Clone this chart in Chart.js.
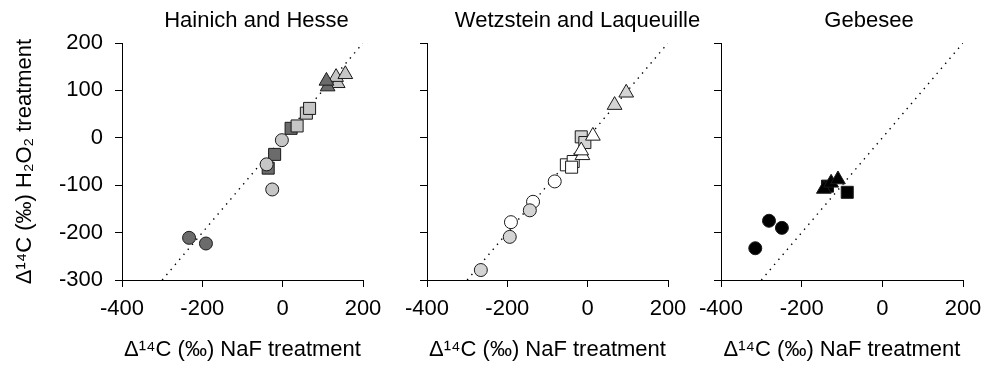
<!DOCTYPE html>
<html><head><meta charset="utf-8">
<script src="https://cdn.jsdelivr.net/npm/chart.js@4"></script>
<style>
html,body{margin:0;padding:0;background:#fff;overflow:hidden;width:985px;height:366px;position:relative}
canvas{position:absolute;top:0}
</style></head>
<body>
<canvas id="c1" width="513" height="366" style="left:0px"></canvas>
<canvas id="c2" width="395" height="366" style="left:380px"></canvas>
<canvas id="c3" width="378" height="366" style="left:680px"></canvas>
<script>
// ---- axes ----
const xTicks = [-400, -200, 0, 200];
const yTicks = [-300, -200, -100, 0, 100, 200];
const refLine = [-300, 200]; // 1:1 line from (-300,-300) to (200,200)
const panelTitles = ['Hainich and Hesse', 'Wetzstein and Laqueuille', 'Gebesee'];
const xTitle = 'Δ¹⁴C (‰) NaF treatment';
const yTitle = 'Δ¹⁴C (‰) H₂O₂ treatment';

// ---- Panel 1: Hainich and Hesse ----
const hhLightCircleX = [-2, -40, -26];
const hhLightCircleY = [-5, -56, -109];
const hhDarkCircleX = [-233, -191];
const hhDarkCircleY = [-211, -223];
const hhLightSquareX = [59, 67, 36];
const hhLightSquareY = [52, 62, 25];
const hhDarkSquareX = [21, -20, -36];
const hhDarkSquareY = [20, -35, -64];
const hhDarkTriangleX = [112, 109];
const hhDarkTriangleY = [108, 120];
const hhLightTriangleX = [137, 133, 156];
const hhLightTriangleY = [115, 128, 134];

// ---- Panel 2: Wetzstein and Laqueuille ----
const wlLightTriangleX = [96, 67];
const wlLightTriangleY = [95, 69];
const wlWhiteTriangleX = [13, -13, -16];
const wlWhiteTriangleY = [4, -37, -27];
const wlLightSquareX = [-16, -7];
const wlLightSquareY = [2, -10];
const wlWhiteSquareX = [-53, -36, -40];
const wlWhiteSquareY = [-57, -50, -62];
const wlWhiteCircleX = [-82, -136, -191];
const wlWhiteCircleY = [-92, -135, -178];
const wlLightCircleX = [-144, -194, -266];
const wlLightCircleY = [-153, -209, -279];

// ---- Panel 3: Gebesee ----
const gbCircleX = [-281, -249, -315];
const gbCircleY = [-175, -190, -233];
const gbSquareX = [-136, -87];
const gbSquareY = [-102, -115];
const gbTriangleX = [-145, -127, -110];
const gbTriangleY = [-108, -95, -88];

const FONT = "'Liberation Sans', Arial, Helvetica, sans-serif";
const DARK = '#6b6b6b', LIGHT1 = '#c6c6c6', LIGHT2 = '#d4d4d4', WHITE = '#ffffff', BLACK = '#000000';
const EDGE = '#1a1a1a';

function pts(xs, ys) { return xs.map((x, i) => ({x: x, y: ys[i]})); }
function marks(xs, ys, style, fill) {
  const r = style === 'circle' ? 6.5 : 8.5;
  return {data: pts(xs, ys), pointStyle: style, pointRadius: r, pointHoverRadius: r,
    backgroundColor: fill, borderColor: EDGE, borderWidth: 1, showLine: false};
}
function oneToOne() {
  return {data: pts(refLine, refLine), showLine: true, pointRadius: 0, borderColor: '#000',
    borderWidth: 1.4, borderDash: [1.4, 5.2], fill: false};
}

function makeChart(id, title, datasets, yWidth, rWidth, showY) {
  const tickFont = {family: FONT, size: 22};
  new Chart(document.getElementById(id), {
    type: 'scatter',
    data: {datasets: datasets},
    options: {
      responsive: false, animation: false, devicePixelRatio: 1,
      layout: {padding: 0},
      plugins: {
        legend: {display: false}, tooltip: {enabled: false},
        title: {display: true, text: title, color: '#000', font: {family: FONT, size: 22, weight: 'normal'},
          padding: {top: 8, bottom: 8.6}}
      },
      scales: {
        x: {type: 'linear', position: 'bottom', min: xTicks[0], max: xTicks[xTicks.length - 1],
          afterBuildTicks: s => { s.ticks = xTicks.map(v => ({value: v})); },
          afterFit: s => { s.height = 86; },
          grid: {display: true, drawOnChartArea: false, drawTicks: true, tickLength: 7, color: '#000', lineWidth: 1},
          border: {display: true, color: '#000', width: 1},
          ticks: {color: '#000', font: tickFont, padding: 9, maxRotation: 0, autoSkip: false},
          title: {display: true, text: xTitle, color: '#000', font: tickFont, padding: {top: 0, bottom: 3}}
        },
        y: {type: 'linear', position: 'left', min: yTicks[0], max: yTicks[yTicks.length - 1],
          afterBuildTicks: s => { s.ticks = yTicks.map(v => ({value: v})); },
          afterFit: s => { s.width = yWidth; },
          grid: {display: true, drawOnChartArea: false, drawTicks: true, tickLength: 7, color: '#000', lineWidth: 1},
          border: {display: true, color: '#000', width: 1},
          ticks: {display: showY, color: '#000', font: tickFont, padding: 12},
          title: {display: showY, text: yTitle, color: '#000', font: tickFont, padding: {top: 12, bottom: 0}}
        },
        yR: {type: 'linear', position: 'right', display: true,
          afterFit: s => { s.width = rWidth; },
          grid: {display: false}, border: {display: false}, ticks: {display: false}
        }
      }
    }
  });
}

makeChart('c1', panelTitles[0], [
  marks(hhLightCircleX, hhLightCircleY, 'circle', LIGHT1),
  marks(hhDarkCircleX, hhDarkCircleY, 'circle', DARK),
  marks(hhLightSquareX, hhLightSquareY, 'rect', LIGHT1),
  marks(hhDarkSquareX, hhDarkSquareY, 'rect', DARK),
  marks(hhDarkTriangleX, hhDarkTriangleY, 'triangle', DARK),
  marks(hhLightTriangleX, hhLightTriangleY, 'triangle', LIGHT1),
  oneToOne()
], 122, 513 - 363, true);

makeChart('c2', panelTitles[1], [
  marks(wlLightCircleX, wlLightCircleY, 'circle', LIGHT2),
  marks(wlWhiteCircleX, wlWhiteCircleY, 'circle', WHITE),
  marks(wlWhiteTriangleX, wlWhiteTriangleY, 'triangle', WHITE),
  marks(wlLightTriangleX, wlLightTriangleY, 'triangle', LIGHT2),
  marks(wlLightSquareX, wlLightSquareY, 'rect', LIGHT2),
  marks(wlWhiteSquareX, wlWhiteSquareY, 'rect', WHITE),
  oneToOne()
], 427 - 380, 775 - 668, false);

makeChart('c3', panelTitles[2], [
  marks(gbTriangleX, gbTriangleY, 'triangle', BLACK),
  marks(gbSquareX, gbSquareY, 'rect', BLACK),
  marks(gbCircleX, gbCircleY, 'circle', BLACK),
  oneToOne()
], 721 - 680, 1058 - 963, false);
</script>
</body></html>
